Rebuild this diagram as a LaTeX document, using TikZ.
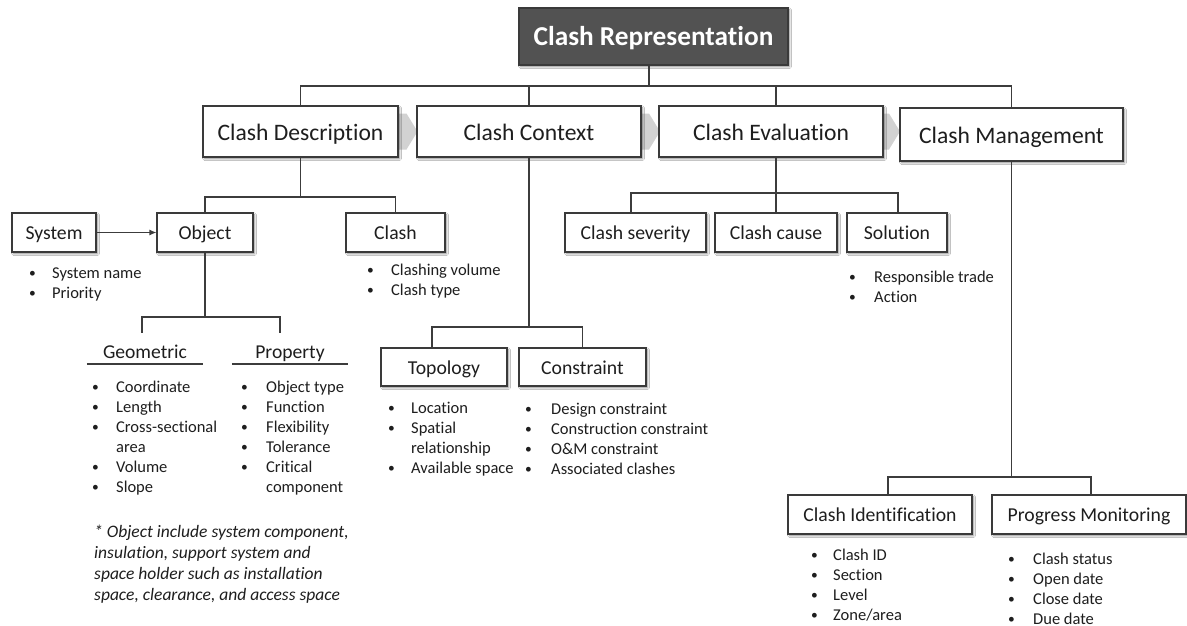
\documentclass[tikz,border=0pt]{standalone}
\usepackage{fontspec}
\setmainfont{Carlito}[Ligatures=NoCommon]
\usetikzlibrary{shadows.blur,calc,arrows.meta}

\definecolor{linec}{HTML}{3C3C3C}
\definecolor{boxc}{HTML}{3A3A3A}
\definecolor{topfill}{HTML}{525252}
\definecolor{txt}{HTML}{1E1E1E}
\definecolor{chevc}{HTML}{D2D2D2}

\newcommand\fs[2]{\fontsize{#1pt}{#2pt}\selectfont}
% bullet list: #1 = distance from bullet to text, #2 = rows
\newcommand\blist[2]{\begin{tabular}[t]{@{}p{#1pt}@{}l@{}}#2\end{tabular}}
\newcommand\bu{\raisebox{0.9pt}{\fs{13.5}{20}\textbullet} &}

\begin{document}
\begin{tikzpicture}[x=1pt,y=-1pt,
  conn/.style={draw=linec,line width=1.2pt},
  box/.style={rectangle,draw=boxc,line width=1.1pt,fill=white,inner sep=0pt,text=txt,
    text depth=0pt,
    blur shadow={shadow xshift=1.6pt,shadow yshift=-1.8pt,shadow blur steps=4,shadow opacity=45}},
  lvlone/.style={box,minimum height=51pt,text height=17pt,font=\fs{23.6}{28}},
  lvltwo/.style={box,minimum height=39pt,text height=14.6pt,font=\fs{19.7}{24}},
  head/.style={inner sep=0pt,minimum width=116pt,text height=26pt,text depth=5pt,
    anchor=south,font=\fs{19.6}{24},text=txt},
  lst/.style={anchor=base west,inner sep=0pt,font=\fs{16.5}{20},text=txt},
  chev/.style={fill=chevc,draw=none}]

\useasboundingbox[fill=white] (0,0) rectangle (1187,626);

% ---------- main row ----------
\node[box,fill=topfill,minimum width=269pt,minimum height=57pt,text height=19pt,
  text=white,font=\bfseries\fs{27.3}{32}]
  (top) at (653.5,36.5) {Clash Representation};

\coordinate (desccen) at (300.5,131.5);
\coordinate (ctxcen) at (529,131.5);
\coordinate (evalcen) at (771,131.5);
\coordinate (mgmtcen) at (1011.5,134.5);

% process chevrons behind the main boxes
\fill[chev] ($(desccen)+(88,-18)$) -- ($(desccen)+(106,-18)$) -- ($(desccen)+(117,0)$)
  -- ($(desccen)+(106,18)$) -- ($(desccen)+(88,18)$) -- cycle;
\fill[chev] ($(ctxcen)+(103,-18)$) -- ($(ctxcen)+(120,-18)$) -- ($(ctxcen)+(131,0)$)
  -- ($(ctxcen)+(120,18)$) -- ($(ctxcen)+(103,18)$) -- cycle;
\fill[chev] ($(evalcen)+(103,-18)$) -- ($(evalcen)+(118,-18)$) -- ($(evalcen)+(129,0)$)
  -- ($(evalcen)+(118,18)$) -- ($(evalcen)+(103,18)$) -- cycle;

\node[lvlone,minimum width=195pt] (desc) at (desccen) {Clash Description};
\node[lvlone,minimum width=224pt] (ctx) at (ctxcen) {Clash Context};
\node[lvlone,minimum width=224pt] (eval) at (evalcen) {Clash Evaluation};
\node[lvlone,minimum width=223pt,minimum height=53pt] (mgmt) at (mgmtcen) {Clash Management};

\coordinate (bar) at (0,86);
\draw[conn] ($(top.south)+(-4.5,0)$) -- ($(top.south |- bar)+(-4.5,0)$);
\draw[conn] (desc.north) -- (desc.north |- bar) -- (mgmt.north |- bar) -- (mgmt.north);
\draw[conn] (ctx.north) -- (ctx.north |- bar);
\draw[conn] ($(eval.north)+(5,0)$) -- ($(eval.north |- bar)+(5,0)$);

% ---------- clash description ----------
\node[lvltwo,minimum width=84pt] (system) at (54,232.5) {System};
\node[lvltwo,minimum width=96pt] (object) at (205,232.5) {Object};
\node[lvltwo,minimum width=99pt] (clash) at (395.5,232.5) {Clash};

\coordinate (bdesc) at (0,197);
\draw[conn] (desc.south) -- (desc.south |- bdesc);
\draw[conn] (object.north) -- (object.north |- bdesc) -- (clash.north |- bdesc) -- (clash.north);
\draw[conn,-{Latex[length=7pt,width=6pt]}] (system) -- (object);

\node[lst] (syslist) at (29,278) {\blist{23}{\bu System name\\ \bu Priority}};
\node[lst] (clashlist) at (367,275) {\blist{24}{\bu Clashing volume\\ \bu Clash type}};

\node[head] (geo) at (145,364) {Geometric};
\node[head] (prop) at (290,364) {Property};
\draw[linec,line width=1.5pt] (geo.south west) -- (geo.south east);
\draw[linec,line width=1.5pt] (prop.south west) -- (prop.south east);

\coordinate (bobj) at (0,317);
\draw[conn] (object.south) -- (object.south |- bobj);
\draw[conn] ($(geo.north)+(-3,0)$) -- ($(geo.north |- bobj)+(-3,0)$)
  -- ($(prop.north |- bobj)+(-10,0)$) -- ($(prop.north)+(-10,0)$);

\node[lst] (geolist) at (92,392) {\blist{24}{\bu Coordinate\\ \bu Length\\ \bu Cross-sectional\\ & area\\
  \bu Volume\\ \bu Slope}};
\node[lst] (proplist) at (241,392) {\blist{25}{\bu Object type\\ \bu Function\\ \bu Flexibility\\
  \bu Tolerance\\ \bu Critical\\ & component}};

\node[anchor=base west,inner sep=0pt,font=\itshape\fs{17.5}{21.3},text=txt] (note) at (94,537)
  {\begin{tabular}[t]{@{}l@{}}* Object include system component,\\ insulation, support system and\\
   space holder such as installation\\ space, clearance, and access space\end{tabular}};

% ---------- clash context ----------
\node[lvltwo,minimum width=126pt,minimum height=38pt] (topo) at (444,367) {Topology};
\node[lvltwo,minimum width=127pt,minimum height=38pt] (cons) at (582.5,367) {Constraint};

\coordinate (bctx) at (0,327);
\draw[conn] (ctx.south) -- (ctx.south |- bctx);
\draw[conn] ($(topo.north)+(-12,0)$) -- ($(topo.north |- bctx)+(-12,0)$) -- (cons.north |- bctx) -- (cons.north);

\node[lst] (topolist) at (388,413) {\blist{23}{\bu Location\\ \bu Spatial\\ & relationship\\ \bu Available space}};
\node[lst] (conslist) at (525,414) {\blist{26}{\bu Design constraint\\ \bu Construction constraint\\
  \bu O\&M constraint\\ \bu Associated clashes}};

% ---------- clash evaluation ----------
\node[lvltwo,minimum width=141pt] (sev) at (635.5,232.5) {Clash severity};
\node[lvltwo,minimum width=122pt] (cause) at (776,232.5) {Clash cause};
\node[lvltwo,minimum width=100pt] (sol) at (897,232.5) {Solution};

\coordinate (beval) at (0,193);
\draw[conn] (cause.north) -- (cause.north |- eval.south);
\draw[conn] ($(sev.north)+(-4.5,0)$) -- ($(sev.north |- beval)+(-4.5,0)$)
  -- ($(sol.north |- beval)+(1,0)$) -- ($(sol.north)+(1,0)$);

\node[lst] (sollist) at (849,282) {\blist{25}{\bu Responsible trade\\ \bu Action}};

% ---------- clash management ----------
\node[lvltwo,minimum width=184pt] (cid) at (880,514.5) {Clash Identification};
\node[lvltwo,minimum width=194pt] (prog) at (1089,514.5) {Progress Monitoring};

\coordinate (bmgmt) at (0,477);
\draw[conn] (mgmt.south) -- (mgmt.south |- bmgmt);
\draw[conn] ($(cid.north)+(8,0)$) -- ($(cid.north |- bmgmt)+(8,0)$)
  -- ($(prog.north |- bmgmt)+(2,0)$) -- ($(prog.north)+(2,0)$);

\node[lst] (cidlist) at (811,560) {\blist{22}{\bu Clash ID\\ \bu Section\\ \bu Level\\ \bu Zone/area}};
\node[lst] (proglist) at (1008,564) {\blist{25}{\bu Clash status\\ \bu Open date\\ \bu Close date\\ \bu Due date}};

\end{tikzpicture}
\end{document}
